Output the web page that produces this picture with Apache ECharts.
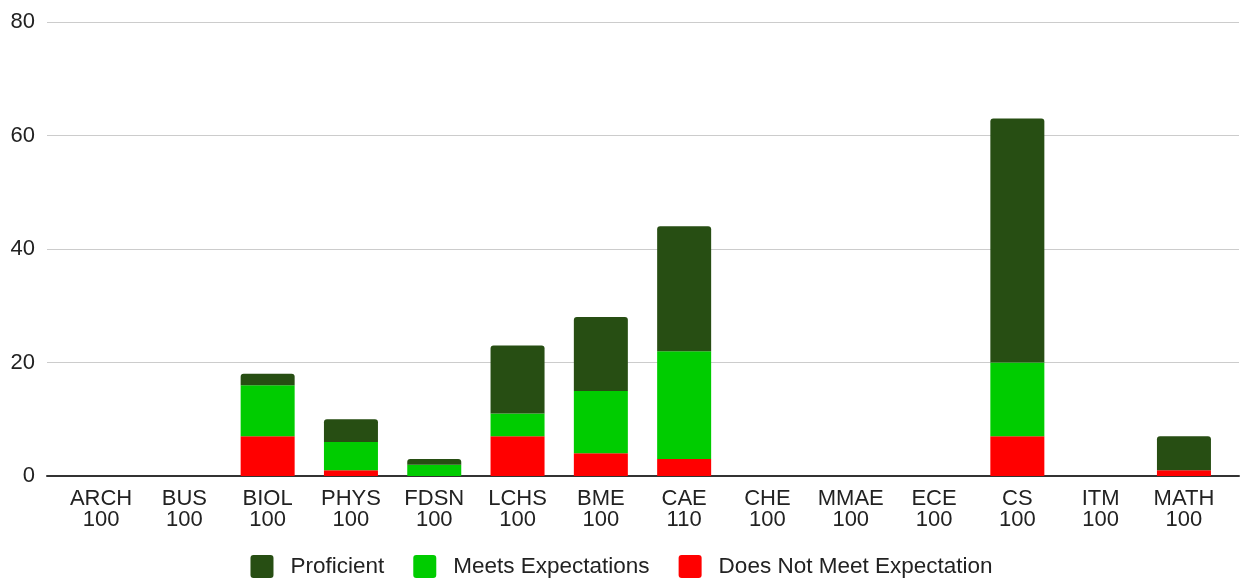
<!DOCTYPE html>
<html>
<head>
<meta charset="utf-8">
<script src="https://cdn.jsdelivr.net/npm/echarts@6/dist/echarts.min.js"></script>
<style>
  html, body { margin: 0; padding: 0; background: #fff; }
  #chart { width: 1243px; height: 580px; }
</style>
</head>
<body>
<div id="chart"></div>
<script>
// Course sections and assessment outcome counts
const courses = ['ARCH\n100', 'BUS\n100', 'BIOL\n100', 'PHYS\n100', 'FDSN\n100', 'LCHS\n100', 'BME\n100',
                 'CAE\n110', 'CHE\n100', 'MMAE\n100', 'ECE\n100', 'CS\n100', 'ITM\n100', 'MATH\n100'];
const doesNotMeet = [0, 0, 7, 1, 0, 7, 4, 3, 0, 0, 0, 7, 0, 1];
const meets       = [0, 0, 9, 5, 2, 4, 11, 19, 0, 0, 0, 13, 0, 0];
const proficient  = [0, 0, 2, 4, 1, 12, 13, 22, 0, 0, 0, 43, 0, 6];
const yTicks = { min: 0, max: 80, interval: 20 };

const FONT = '"Liberation Sans", Arial, sans-serif';
// small-radius rounded square for legend swatches
const SWATCH = 'path://M3,0 H20 A3,3 0 0 1 23,3 V20 A3,3 0 0 1 20,23 H3 A3,3 0 0 1 0,20 V3 A3,3 0 0 1 3,0 Z';
const chart = echarts.init(document.getElementById('chart'), null, { renderer: 'canvas' });

chart.setOption({
  animation: false,
  textStyle: { fontFamily: FONT },
  grid: [
    { left: 47, right: 4, top: 22, bottom: 104 },
    { left: 59.4, width: 1166.2, top: 22, bottom: 104 }
  ],
  legend: {
    top: 555,
    left: 'center',
    padding: 0,
    itemWidth: 23,
    itemHeight: 23,
    itemGap: 29,
    icon: SWATCH,
    data: ['Proficient', 'Meets Expectations', 'Does Not Meet Expectation'],
    textStyle: { fontSize: 22.5, color: '#222', fontFamily: FONT, padding: [0, 0, 0, 12] }
  },
  xAxis: [
    {
      gridIndex: 0, type: 'value', min: 0, max: 1,
      axisLine: { show: true, onZero: false, lineStyle: { color: '#333', width: 2 } },
      axisTick: { show: false }, axisLabel: { show: false }, splitLine: { show: false }
    },
    {
      gridIndex: 1, type: 'category', data: courses,
      axisLine: { show: false }, axisTick: { show: false },
      axisLabel: { fontSize: 22, color: '#222', lineHeight: 21, margin: 12, fontFamily: FONT, interval: 0 }
    }
  ],
  yAxis: [
    {
      gridIndex: 0, type: 'value', min: yTicks.min, max: yTicks.max, interval: yTicks.interval,
      axisLine: { show: false }, axisTick: { show: false },
      axisLabel: { fontSize: 22, color: '#222', margin: 12, fontFamily: FONT },
      splitLine: { lineStyle: { color: '#cccccc', width: 1 } }
    },
    {
      gridIndex: 1, type: 'value', min: yTicks.min, max: yTicks.max, interval: yTicks.interval,
      show: false, splitLine: { show: false }
    }
  ],
  series: [
    {
      name: 'Does Not Meet Expectation', type: 'bar', stack: 'total',
      xAxisIndex: 1, yAxisIndex: 1, barWidth: 54,
      itemStyle: { color: '#ff0000' }, data: doesNotMeet
    },
    {
      name: 'Meets Expectations', type: 'bar', stack: 'total',
      xAxisIndex: 1, yAxisIndex: 1, barWidth: 54,
      itemStyle: { color: '#00cc00' }, data: meets
    },
    {
      name: 'Proficient', type: 'bar', stack: 'total',
      xAxisIndex: 1, yAxisIndex: 1, barWidth: 54,
      itemStyle: { color: '#274e13', borderRadius: [3, 3, 0, 0] }, data: proficient
    }
  ]
});
</script>
</body>
</html>
